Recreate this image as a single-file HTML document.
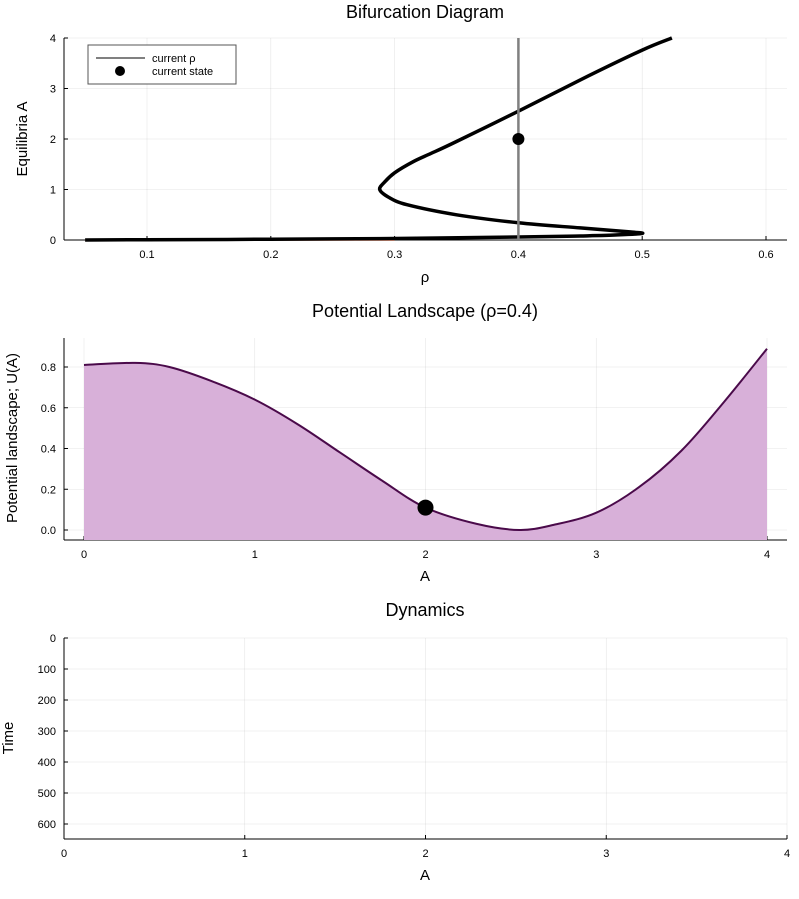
<!DOCTYPE html>
<html><head><meta charset="utf-8">
<style>
body{margin:0;background:#fff;}
svg{display:block;font-family:"Liberation Sans","DejaVu Sans",sans-serif;}
</style></head>
<body>
<svg id="fig" width="799" height="899" viewBox="0 0 799 899" xmlns="http://www.w3.org/2000/svg"></svg>
<script>
// ---- data ----
const bifRho = [0.05,0.1,0.2,0.3,0.4,0.45,0.48,0.5,0.49,0.45,0.4,0.35,0.31,0.295,0.288,0.292,0.3,0.315,0.33,0.35,0.4,0.45,0.5,0.524];
const bifA   = [0.0,0.005,0.015,0.03,0.06,0.08,0.1,0.13,0.16,0.24,0.34,0.5,0.7,0.85,1.0,1.15,1.33,1.55,1.72,1.95,2.55,3.17,3.76,4.0];
const currentRho = 0.4;
const currentState = 2;
const potA = [0,0.3,0.5,0.75,1,1.25,1.5,1.75,2,2.3,2.55,2.75,3,3.25,3.5,3.75,4];
const potU = [0.81,0.82,0.80,0.73,0.64,0.52,0.38,0.24,0.11,0.03,0.0,0.025,0.085,0.21,0.39,0.63,0.89];
const bifXTicks = [0.1,0.2,0.3,0.4,0.5,0.6];
const bifYTicks = [0,1,2,3,4];
const potXTicks = [0,1,2,3,4];
const potYTicks = [0.0,0.2,0.4,0.6,0.8];
const dynXTicks = [0,1,2,3,4];
const dynYTicks = [0,100,200,300,400,500,600];

const NS="http://www.w3.org/2000/svg";
const svg=document.getElementById('fig');
function mk(tag,attrs,parent){const e=document.createElementNS(NS,tag);for(const k in attrs)e.setAttribute(k,attrs[k]);(parent||svg).appendChild(e);return e;}
function txt(s,x,y,size,anchor,parent,rot){const t=mk('text',{x:x,y:y,'font-size':size,'text-anchor':anchor||'middle',fill:'#000'},parent);if(rot)t.setAttribute('transform','rotate(-90 '+x+' '+y+')');t.textContent=s;return t;}
function lin(d0,d1,p0,p1){return v=>p0+(v-d0)*(p1-p0)/(d1-d0);}
function smooth(pts){
  let d='M'+pts[0][0].toFixed(1)+','+pts[0][1].toFixed(1);
  for(let i=0;i<pts.length-1;i++){
    const p0=pts[Math.max(0,i-1)],p1=pts[i],p2=pts[i+1],p3=pts[Math.min(pts.length-1,i+2)];
    const c1=[p1[0]+(p2[0]-p0[0])/6,p1[1]+(p2[1]-p0[1])/6];
    const c2=[p2[0]-(p3[0]-p1[0])/6,p2[1]-(p3[1]-p1[1])/6];
    d+='C'+c1[0].toFixed(1)+','+c1[1].toFixed(1)+' '+c2[0].toFixed(1)+','+c2[1].toFixed(1)+' '+p2[0].toFixed(1)+','+p2[1].toFixed(1);
  }
  return d;
}

function axes(g,L,R,T,B,xs,ys,xt,yt,xfmt,yfmt){
  const gr=mk('g',{},g);
  
  xt.forEach(v=>mk('line',{x1:xs(v),x2:xs(v),y1:T,y2:B,stroke:'#000','stroke-opacity':0.1,'stroke-width':0.6},gr));
  yt.forEach(v=>mk('line',{x1:L,x2:R,y1:ys(v),y2:ys(v),stroke:'#000','stroke-opacity':0.1,'stroke-width':0.6},gr));
  const ax=mk('g',{},g);
  
  mk('line',{x1:L,x2:L,y1:T,y2:B,stroke:'#000','stroke-width':1},ax);
  mk('line',{x1:L,x2:R,y1:B,y2:B,stroke:'#000','stroke-width':1},ax);
  xt.forEach(v=>{mk('line',{x1:xs(v),x2:xs(v),y1:B,y2:B-4,stroke:'#000'},ax);const t=txt(xfmt(v),xs(v),B+18,11,'middle',ax);});
  yt.forEach(v=>{mk('line',{x1:L,x2:L+4,y1:ys(v),y2:ys(v),stroke:'#000'},ax);const t=txt(yfmt(v),L-8,ys(v)+4,11,'end',ax);});
}

// ---- Plot 1: bifurcation ----
{
const g=mk('g',{});
const L=64,R=787,T=38,B=240;
const xs=lin(0.1,0.6,147,766), ys=lin(0,4,240,38);
axes(g,L,R,T,B,xs,ys,bifXTicks,bifYTicks,v=>v.toFixed(1),v=>String(v));
const t1=txt('Bifurcation Diagram',425,18,18,'middle',g);
const xl=txt('ρ',425,282,15,'middle',g);
const yl=txt('Equilibria A',27,139,15,'middle',g,true);
mk('line',{x1:xs(0.05),x2:xs(0.3),y1:ys(0),y2:ys(0),stroke:'#e26f46','stroke-width':1.5},g);
const p=mk('path',{d:smooth(bifRho.map((r,i)=>[xs(r),ys(bifA[i])])),fill:'none',stroke:'#000','stroke-width':3.5,'stroke-linejoin':'round'},g);

const vl=mk('line',{x1:xs(currentRho),x2:xs(currentRho),y1:T,y2:B,stroke:'#808080','stroke-width':2.5},g);

const c=mk('circle',{cx:xs(currentRho),cy:ys(currentState),r:6,fill:'#000'},g);

const lg=mk('g',{},g);
mk('rect',{x:88,y:45,width:148,height:39,fill:'#fff',stroke:'#555','stroke-width':1},lg);
mk('line',{x1:96,x2:145,y1:58,y2:58,stroke:'#808080','stroke-width':2},lg);
txt('current ρ',152,62,11,'start',lg);
mk('circle',{cx:120,cy:71,r:5,fill:'#000'},lg);
txt('current state',152,75,11,'start',lg);
}

// ---- Plot 2: potential ----
{
const g=mk('g',{});
const L=64,R=787,T=338,B=540;
const xs=lin(0,4,84,767), ys=lin(0,0.8,530,367);
axes(g,L,R,T,B,xs,ys,potXTicks,potYTicks,v=>String(v),v=>v.toFixed(1));
const t1=txt('Potential Landscape (ρ=0.4)',425,317,18,'middle',g);
const xl=txt('A',425,581,15,'middle',g);
const yl=txt('Potential landscape; U(A)',17,438,15,'middle',g,true);
const d=smooth(potA.map((a,i)=>[xs(a),ys(potU[i])]));
const f=mk('path',{d:d+'L'+xs(potA[potA.length-1])+','+B+'L'+xs(potA[0])+','+B+'Z',fill:'#d8b0d9',stroke:'none'},g);

const p=mk('path',{d:d,fill:'none',stroke:'#4a0a4a','stroke-width':2,'stroke-linejoin':'round'},g);

let ui=potA.indexOf(currentState);
const c=mk('circle',{cx:xs(currentState),cy:ys(potU[ui]),r:8,fill:'#000'},g);

}

// ---- Plot 3: dynamics ----
{
const g=mk('g',{});
const L=64,R=787,T=638,B=839;
const xs=lin(0,4,64,787), ys=lin(0,600,638,824);
axes(g,L,R,T,B,xs,ys,dynXTicks,dynYTicks,v=>String(v),v=>String(v));
const t1=txt('Dynamics',425,616,18,'middle',g);
const xl=txt('A',425,880,15,'middle',g);
const yl=txt('Time',13,738,15,'middle',g,true);
}
</script>
</body></html>
